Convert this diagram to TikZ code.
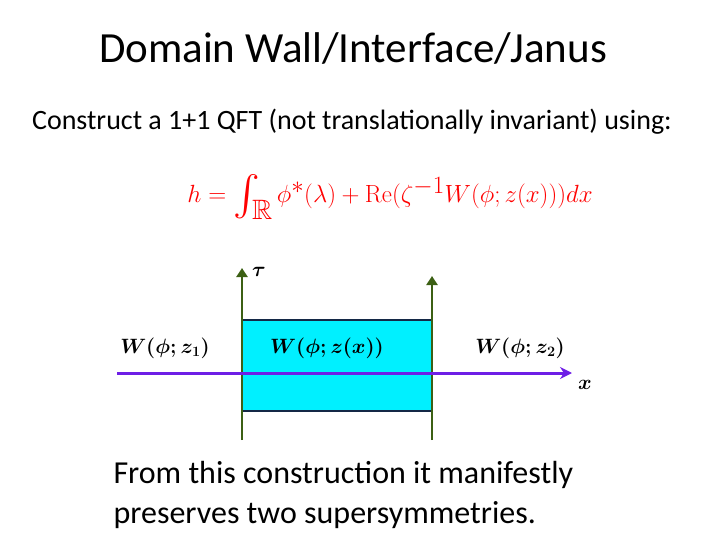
\documentclass[tikz,border=0pt]{standalone}
\usepackage{amssymb}
\usepackage[no-math]{fontspec}
\setmainfont{Carlito}
\usetikzlibrary{arrows.meta}
\definecolor{wallgreen}{RGB}{60,96,20}
\definecolor{axispurple}{RGB}{110,30,230}
\definecolor{boxcyan}{RGB}{0,240,255}
\definecolor{boxedge}{RGB}{20,40,70}
\tikzset{
  wall/.style={draw=wallgreen, line width=2.5pt, -{Triangle[length=9pt,width=11pt]}},
  axis/.style={draw=axispurple, line width=3pt, -{Stealth[length=12pt,width=12pt]}},
  mlabel/.style={font=\fontsize{22}{26}\selectfont\boldmath}
}
\begin{document}
\begin{tikzpicture}[x=1pt,y=-1pt]
\useasboundingbox (0,0) rectangle (720,540);

\node[font=\fontsize{43}{50}\selectfont] (title) at (353,48) {Domain Wall/Interface/Janus};
\node[font=\fontsize{28}{33}\selectfont] (intro) at (352,122) {Construct a 1+1 QFT (not translationally invariant) using:};
\node[text=red, font=\fontsize{40}{46}\selectfont] (formula) at (390,197) {$h=\int_{\mathbb{R}}\phi^{*}(\lambda)+\mathrm{Re}(\zeta^{-1}W(\phi;z(x)))dx$};

\draw[fill=boxcyan, draw=boxedge, line width=2pt] (242,320) rectangle (432,411);

\coordinate (wl0) at (242,440);
\coordinate (wl1) at (242,268);
\coordinate (wr0) at (432,440);
\coordinate (wr1) at (432,276);
\coordinate (ax0) at (117,373);
\coordinate (ax1) at (572,373);
\draw[wall] (wl0) -- (wl1);
\draw[wall] (wr0) -- (wr1);
\draw[axis] (ax0) -- (ax1);

\node[mlabel] (tau) at (259,272) {$\tau$};
\node[mlabel] (xlab) at (585,385) {$x$};
\node[mlabel] (wone) at (165,348) {$W(\phi;z_1)$};
\node[mlabel] (wmid) at (327,348) {$W(\phi;z(x))$};
\node[mlabel] (wtwo) at (520,348) {$W(\phi;z_2)$};

\node[align=left, anchor=north west, font=\fontsize{32}{40}\selectfont] (outro) at (110,458) {From this construction it manifestly\\ preserves two supersymmetries.};
\end{tikzpicture}
\end{document}
